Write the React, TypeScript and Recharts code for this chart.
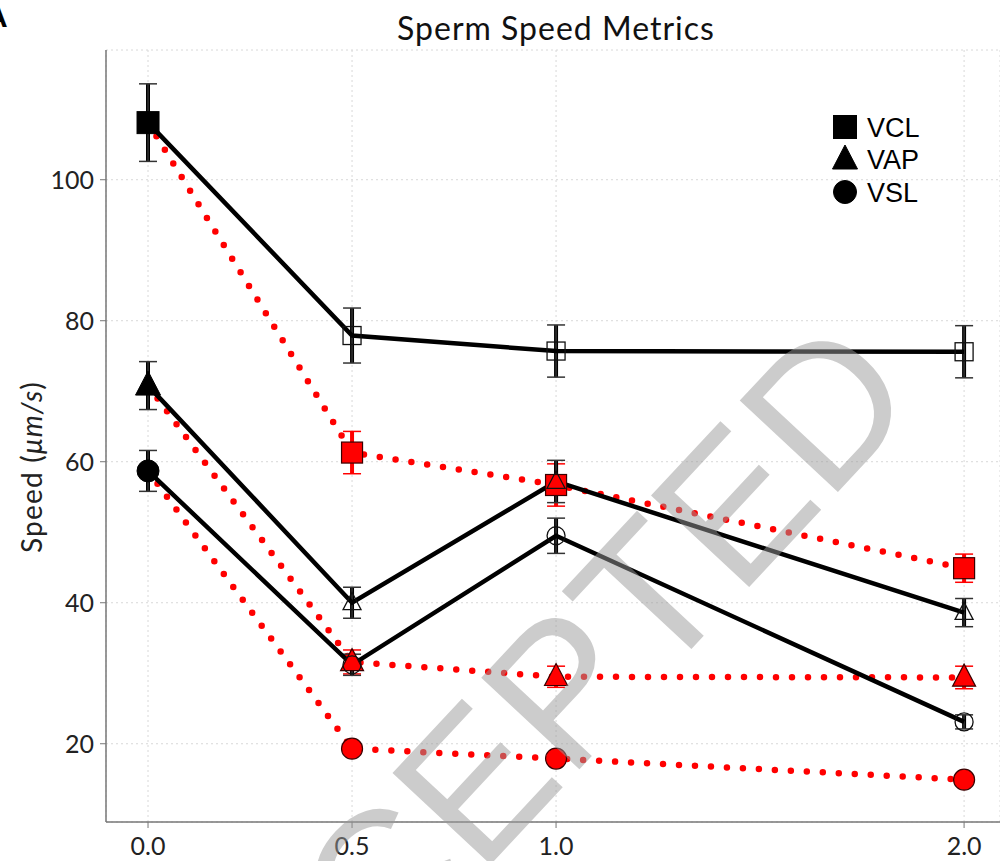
import React from 'react';
import { ComposedChart, Line, XAxis, YAxis, CartesianGrid, ErrorBar } from 'recharts';

// dose levels on the x axis
const doses = [0, 0.5, 1.0, 2.0];
const xTicks = [0, 0.5, 1.0, 2.0];
const yTicks = [20, 40, 60, 80, 100];

// solid black series (first point shared with the red dotted series)
const vclBlack = [108.1, 77.9, 75.7, 75.6];
const vclBlackErr = [5.5, 3.9, 3.7, 3.7];
const vapBlack = [70.8, 40.0, 57.2, 38.6];
const vapBlackErr = [3.4, 2.2, 3.0, 2.0];
const vslBlack = [58.7, 31.2, 49.5, 23.1];
const vslBlackErr = [2.9, 1.5, 2.5, 1.0];

// dotted red series
const vclRed = [108.1, 61.3, 56.7, 44.9];
const vclRedErr = [0, 3.0, 3.0, 2.0];
const vapRed = [70.8, 31.6, 29.5, 29.4];
const vapRedErr = [0, 1.7, 1.5, 1.6];
const vslRed = [58.7, 19.3, 17.9, 14.9];
const vslRedErr = [0, 0.4, 0.4, 0.4];

const legendItems = [
  { name: 'VCL', shape: 'square' },
  { name: 'VAP', shape: 'triangle' },
  { name: 'VSL', shape: 'circle' },
];

const data = doses.map((d, i) => ({
  dose: d,
  vclBlack: vclBlack[i], vclBlackErr: vclBlackErr[i],
  vapBlack: vapBlack[i], vapBlackErr: vapBlackErr[i],
  vslBlack: vslBlack[i], vslBlackErr: vslBlackErr[i],
  vclRed: vclRed[i], vclRedErr: vclRedErr[i],
  vapRed: vapRed[i], vapRedErr: vapRedErr[i],
  vslRed: vslRed[i], vslRedErr: vslRedErr[i],
}));

const FONT = 'Lato, "Open Sans", sans-serif';
const RED = '#ff0000';

const Marker = ({ shape, cx, cy, size, fill, stroke, strokeWidth }: any) => {
  if (shape === 'square') {
    return <rect x={cx - size / 2} y={cy - size / 2} width={size} height={size} fill={fill} stroke={stroke} strokeWidth={strokeWidth} />;
  }
  if (shape === 'triangle') {
    const pts = `${cx},${cy - size * 0.58} ${cx - size / 2},${cy + size * 0.38} ${cx + size / 2},${cy + size * 0.38}`;
    return <polygon points={pts} fill={fill} stroke={stroke} strokeWidth={strokeWidth} />;
  }
  return <circle cx={cx} cy={cy} r={size / 2} fill={fill} stroke={stroke} strokeWidth={strokeWidth} />;
};

const blackDot = (shape: string) => (props: any) => {
  const { cx, cy, index } = props;
  const key = `b-${shape}-${index}`;
  if (cx == null || cy == null) return <g key={key} />;
  if (index === 0) {
    return <g key={key}><Marker shape={shape} cx={cx} cy={cy} size={shape === 'triangle' ? 25 : 22} fill="#000" stroke="#000" strokeWidth={1} /></g>;
  }
  return <g key={key}><Marker shape={shape} cx={cx} cy={cy} size={18} fill="none" stroke="#111" strokeWidth={1.3} /></g>;
};

const redDot = (shape: string) => (props: any) => {
  const { cx, cy, index } = props;
  const key = `r-${shape}-${index}`;
  if (cx == null || cy == null || index === 0) return <g key={key} />;
  return <g key={key}><Marker shape={shape} cx={cx} cy={cy} size={shape === 'triangle' ? 23 : 21} fill={RED} stroke="#3a0000" strokeWidth={1.2} /></g>;
};

const XTick = ({ x, y, payload }: any) => (
  <text x={x} y={y + 25} textAnchor="middle" fontFamily={FONT} fontSize={25} fill="#222">
    {Number(payload.value).toFixed(1)}
  </text>
);

const YTick = ({ x, y, payload }: any) => (
  <text x={x - 4} y={y} dy="0.36em" textAnchor="end" fontFamily={FONT} fontSize={25} fill="#222">
    {payload.value}
  </text>
);

const errBars = (key: string, color: string, capColor: string) => [
  <ErrorBar key={`${key}-v`} dataKey={key} width={0} stroke={color} strokeWidth={4} isAnimationActive={false} />,
  <ErrorBar key={`${key}-c`} dataKey={key} width={9} stroke={capColor} strokeWidth={1.5} isAnimationActive={false} />,
];

const redLine = (key: string, shape: string) => (
  <Line
    key={key}
    dataKey={key}
    type="linear"
    stroke={RED}
    strokeWidth={6.5}
    strokeDasharray="0 16"
    strokeLinecap="round"
    dot={redDot(shape)}
    activeDot={false}
    isAnimationActive={false}
  >
    {errBars(`${key}Err`, RED, RED)}
  </Line>
);

const blackLine = (key: string, shape: string) => (
  <Line
    key={key}
    dataKey={key}
    type="linear"
    stroke="#000"
    strokeWidth={4.5}
    dot={blackDot(shape)}
    activeDot={false}
    isAnimationActive={false}
  >
    {errBars(`${key}Err`, '#000', '#333')}
  </Line>
);

export default function App() {
  return (
    <div style={{ position: 'absolute', left: 0, top: 0, width: 1000, height: 861, background: '#fff', overflow: 'hidden' }}>
      <ComposedChart width={1000} height={861} data={data} margin={{ top: 50, right: 0, bottom: 0, left: 0 }}>
        <CartesianGrid stroke="#d8d8d8" strokeDasharray="2 3" />
        <XAxis
          dataKey="dose"
          type="number"
          domain={[-0.103, 2.088]}
          ticks={xTicks}
          tick={<XTick />}
          height={39}
          axisLine={{ stroke: '#777', strokeWidth: 1.5 }}
          tickLine={{ stroke: '#777' }}
          tickSize={6}
          allowDataOverflow
        />
        <XAxis
          xAxisId="top"
          orientation="top"
          dataKey="dose"
          type="number"
          domain={[-0.103, 2.088]}
          tick={false}
          tickLine={false}
          height={0}
          axisLine={{ stroke: '#777', strokeWidth: 1.5 }}
          allowDataOverflow
        />
        <YAxis
          type="number"
          domain={[8.9, 118.4]}
          ticks={yTicks}
          tick={<YTick />}
          width={106}
          axisLine={{ stroke: '#777', strokeWidth: 1.5 }}
          tickLine={{ stroke: '#777' }}
          tickSize={6}
          allowDataOverflow
        />
        {redLine('vclRed', 'square')}
        {redLine('vapRed', 'triangle')}
        {redLine('vslRed', 'circle')}
        {blackLine('vclBlack', 'square')}
        {blackLine('vapBlack', 'triangle')}
        {blackLine('vslBlack', 'circle')}
      </ComposedChart>

      <svg width={1000} height={861} style={{ position: 'absolute', left: 0, top: 0, pointerEvents: 'none' }}>
        <text x={-14} y={27} fontFamily="Liberation Sans, Arial, sans-serif" fontWeight="bold" fontSize={30} fill="#000">A</text>
        <text x={556} y={40} textAnchor="middle" fontFamily={FONT} fontSize={32} letterSpacing={1} fill="#111">Sperm Speed Metrics</text>
        <text transform="translate(31,467) rotate(-90)" textAnchor="middle" dominantBaseline="central" fontFamily={FONT} fontSize={28} letterSpacing={1.2} fill="#222">
          Speed (<tspan fontStyle="italic">μm/s</tspan>)
        </text>
        {legendItems.map((item, i) => {
          const cy = 127 + i * 32.5;
          return (
            <g key={item.name}>
              <Marker shape={item.shape} cx={845} cy={cy} size={item.shape === 'triangle' ? 25 : 23} fill="#000" stroke="#000" strokeWidth={1} />
              <text x={867} y={cy} dy="0.36em" fontFamily="Liberation Sans, Arial, sans-serif" fontSize={27} fill="#000">{item.name}</text>
            </g>
          );
        })}
        <text
          x={561}
          y={789}
          transform="rotate(-47 561 789)"
          textAnchor="middle"
          fontFamily="Liberation Sans, Arial, sans-serif"
          fontSize={195}
          fill="#9a9a9a"
          opacity={0.5}
        >
          ACCEPTED
        </text>
      </svg>
    </div>
  );
}
